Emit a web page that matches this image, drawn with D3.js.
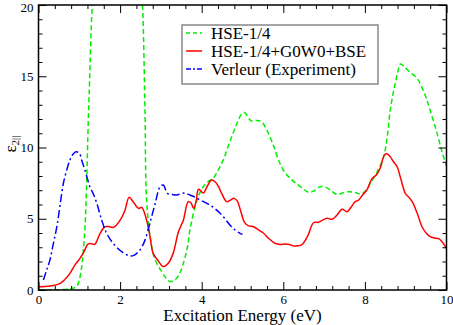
<!DOCTYPE html>
<html><head><meta charset="utf-8">
<script src="https://cdn.jsdelivr.net/npm/d3@7"></script>
<style>body{margin:0;background:#fff}svg{display:block}</style>
</head><body>
<svg id="c" width="453" height="325"></svg>
<script>
const seriesNames = ["HSE-1/4", "HSE-1/4+G0W0+BSE", "Verleur (Experiment)"];
const xTicks = [0, 2, 4, 6, 8, 10];
const yTicks = [0, 5, 10, 15, 20];
const hseE = [0,0.3,0.6,0.77,0.88,0.94,1.0,1.06,1.1,1.14,1.18,1.22,1.25,1.32,1.45,1.7,2.0,2.3,2.5,2.55,2.61,2.65,2.75,2.86,3.02,3.12,3.22,3.32,3.45,3.55,3.65,3.71,3.84,3.95,4.04,4.15,4.28,4.4,4.53,4.65,4.77,4.88,4.98,5.05,5.15,5.22,5.35,5.47,5.6,5.75,5.9,6.05,6.17,6.3,6.45,6.62,6.75,6.9,7.05,7.2,7.31,7.45,7.6,7.75,7.89,8.0,8.13,8.3,8.46,8.55,8.62,8.72,8.8,8.87,8.95,9.1,9.28,9.4,9.5,9.6,9.75,9.9,10.0];
const hseV = [0.02,0.02,0.03,0.1,0.15,0.25,0.7,1.64,2.8,4.44,7.49,11.9,14.5,20,24,27,28,26,22,20,12.5,6.3,3.5,2.1,1.28,0.85,0.6,0.65,1.1,1.87,3.0,4.2,5.85,6.8,7.25,7.6,7.84,8.4,9.13,10.1,11.0,11.8,12.35,12.45,12.05,11.86,11.9,11.8,11.2,10.2,9.0,8.2,7.84,7.5,7.2,6.85,6.95,7.25,7.2,6.9,6.71,6.8,6.9,6.85,6.74,6.9,7.48,8.3,9.36,10.8,12.6,14.2,15.2,15.86,15.7,15.3,14.85,14.2,13.5,12.6,11.2,9.6,8.7];
const gwE = [0,0.28,0.53,0.65,0.77,0.89,1.0,1.1,1.22,1.3,1.38,1.51,1.63,1.72,1.84,2.0,2.12,2.22,2.32,2.45,2.53,2.65,2.73,2.81,2.92,3.06,3.18,3.3,3.43,3.55,3.67,3.74,3.8,3.86,3.92,3.98,4.04,4.14,4.24,4.33,4.42,4.49,4.61,4.7,4.79,4.87,4.95,5.05,5.15,5.27,5.4,5.51,5.65,5.8,5.92,6.04,6.15,6.25,6.35,6.45,6.6,6.74,6.86,6.96,7.07,7.19,7.3,7.44,7.56,7.66,7.76,7.84,7.95,8.05,8.17,8.29,8.38,8.48,8.55,8.62,8.7,8.79,8.88,8.99,9.08,9.16,9.28,9.4,9.5,9.6,9.7,9.81,9.9,10.0];
const gwV = [0.23,0.28,0.47,0.75,1.17,1.75,2.15,2.6,3.23,3.25,3.2,3.98,4.44,4.45,4.4,4.9,5.6,6.5,6.2,5.73,5.8,4.9,3.8,2.57,2.1,1.64,1.87,2.57,4.09,4.9,6.2,6.1,5.73,6.2,7.07,6.95,6.8,7.3,7.72,7.6,7.2,6.78,6.2,6.3,6.43,6.25,5.6,4.75,4.5,4.44,4.2,4.0,3.6,3.27,3.2,3.23,3.2,3.09,3.1,3.16,3.8,4.72,4.75,4.9,5.03,4.96,5.2,5.66,5.5,5.8,6.2,6.3,6.7,7.02,7.8,8.1,8.6,9.47,9.55,9.36,9.0,8.65,7.8,6.78,6.5,6.2,5.4,4.44,4.0,3.74,3.65,3.6,3.35,2.92];
const expE = [0.12,0.2,0.28,0.36,0.45,0.53,0.61,0.69,0.77,0.85,0.92,1.0,1.07,1.14,1.2,1.26,1.35,1.43,1.55,1.67,1.83,2.04,2.24,2.35,2.45,2.53,2.61,2.73,2.86,2.98,3.06,3.12,3.18,3.28,3.39,3.55,3.71,3.85,3.96,4.08,4.2,4.33,4.45,4.57,4.69,4.82,4.94,5.0];
const expV = [0.7,1.4,2.1,3.2,4.44,6.0,7.49,8.4,9.12,9.55,9.7,9.6,9.0,8.4,7.8,7.25,6.7,6.08,4.9,3.98,3.27,2.69,2.39,2.45,2.69,3.0,3.5,4.68,6.08,7.25,7.37,7.0,6.74,6.7,6.67,6.8,6.67,6.5,6.32,6.15,5.96,5.7,5.38,5.0,4.56,4.2,3.98,3.9];

(function () {
const ctx = document.createElement("canvas").getContext("2d");
const probe = "Excitation Energy (eV) HSE-1/4 Wlmi";
function width(f) { ctx.font = "20px " + f; return ctx.measureText(probe).width; }
const baseM = width("monospace"), baseS = width("sans-serif");
const candidates = ["Liberation Serif", "Times New Roman", "Tinos", "DejaVu Serif", "Noto Serif", "FreeSerif", "Nimbus Roman", "Times"];
let serifName = null;
for (const c of candidates) {
  const a = width(`"${c}", monospace`), b = width(`"${c}", sans-serif`);
  if (Math.abs(a - baseM) > 0.5 || Math.abs(b - baseS) > 0.5) { serifName = c; break; }
}
const serif = serifName ? `"${serifName}", serif` : "serif";

const svg = d3.select("#c");
const L = 38.5, R = 446.5, T = 5, B = 290;
const x = d3.scaleLinear().domain([0, 10]).range([L, R]);
const y = d3.scaleLinear().domain([0, 20]).range([B, T]);

svg.append("clipPath").attr("id", "clip").append("rect")
  .attr("x", L).attr("y", T).attr("width", R - L).attr("height", B - T);

const line = d3.line().x(d => x(d[0])).y(d => y(d[1])).curve(d3.curveCatmullRom.alpha(0.5));
const g = svg.append("g").attr("clip-path", "url(#clip)");
const series = [
  {E: hseE, V: hseV, color: "#00ee00", dash: "5,3"},
  {E: gwE, V: gwV, color: "#ff0000", dash: null},
  {E: expE, V: expV, color: "#0000ff", dash: "8,3,2,3"}
];
series.forEach(s => {
  g.append("path").datum(s.E.map((e, i) => [e, s.V[i]]))
    .attr("d", line).attr("fill", "none").attr("stroke", s.color)
    .attr("stroke-width", 1.5).attr("stroke-dasharray", s.dash);
});

const xMinor = d3.range(0, 10.001, 0.4).filter(v => !xTicks.some(t => Math.abs(t - v) < 1e-6));
const yMinor = d3.range(0, 20.001, 1).filter(v => v % 5 !== 0);
const axes = [];
axes.push(svg.append("g").attr("transform", `translate(0,${B})`)
  .call(d3.axisBottom(x).tickValues(xTicks).tickSize(-8).tickPadding(5).tickFormat(d3.format("d"))));
axes.push(svg.append("g").attr("transform", `translate(0,${B})`)
  .call(d3.axisBottom(x).tickValues(xMinor).tickSize(-4).tickFormat("")));
axes.push(svg.append("g").attr("transform", `translate(0,${T})`)
  .call(d3.axisTop(x).tickValues(xTicks).tickSize(-8).tickFormat("")));
axes.push(svg.append("g").attr("transform", `translate(0,${T})`)
  .call(d3.axisTop(x).tickValues(xMinor).tickSize(-4).tickFormat("")));
axes.push(svg.append("g").attr("transform", `translate(${L},0)`)
  .call(d3.axisLeft(y).tickValues(yTicks).tickSize(-8).tickPadding(5).tickFormat(d3.format("d"))));
axes.push(svg.append("g").attr("transform", `translate(${L},0)`)
  .call(d3.axisLeft(y).tickValues(yMinor).tickSize(-4).tickFormat("")));
axes.push(svg.append("g").attr("transform", `translate(${R},0)`)
  .call(d3.axisRight(y).tickValues(yTicks).tickSize(-8).tickFormat("")));
axes.push(svg.append("g").attr("transform", `translate(${R},0)`)
  .call(d3.axisRight(y).tickValues(yMinor).tickSize(-4).tickFormat("")));
axes.forEach(a => {
  a.attr("font-family", serif).attr("font-size", 13);
  a.selectAll(".domain").remove();
  a.selectAll("line").attr("stroke", "#000").attr("stroke-width", 1);
  a.selectAll("text").attr("fill", "#000");
});
axes[4].selectAll(".tick").filter(d => d === 20).select("text").attr("dy", "0.5em");
svg.append("rect").attr("x", L).attr("y", T).attr("width", R - L).attr("height", B - T)
  .attr("fill", "none").attr("stroke", "#000").attr("stroke-width", 1.5);

svg.append("text").attr("x", (L + R) / 2).attr("y", 321).attr("text-anchor", "middle")
  .attr("font-family", serif).attr("font-size", 17).text("Excitation Energy (eV)");
const yl = svg.append("text").attr("transform", "translate(16,144) rotate(-90)")
  .attr("text-anchor", "middle").attr("font-family", serif).attr("font-size", 17);
yl.append("tspan").text("ε");
yl.append("tspan").attr("font-size", 11).attr("dy", 3).text("2||");

const lg = svg.append("g");
lg.append("rect").attr("x", 182).attr("y", 25).attr("width", 196).attr("height", 59)
  .attr("fill", "#fff").attr("stroke", "#888").attr("stroke-width", 1.5);
series.forEach((s, i) => {
  const yy = 33 + i * 18;
  lg.append("line").attr("x1", 186).attr("x2", 202).attr("y1", yy).attr("y2", yy)
    .attr("stroke", s.color).attr("stroke-width", 1.5).attr("stroke-dasharray", s.dash ? (i === 2 ? "5,2,2,2" : "4,3") : null);
  lg.append("text").attr("x", 211).attr("y", yy + 6).attr("font-family", serif)
    .attr("font-size", 17).text(seriesNames[i]);
});
})();
</script>
</body></html>
